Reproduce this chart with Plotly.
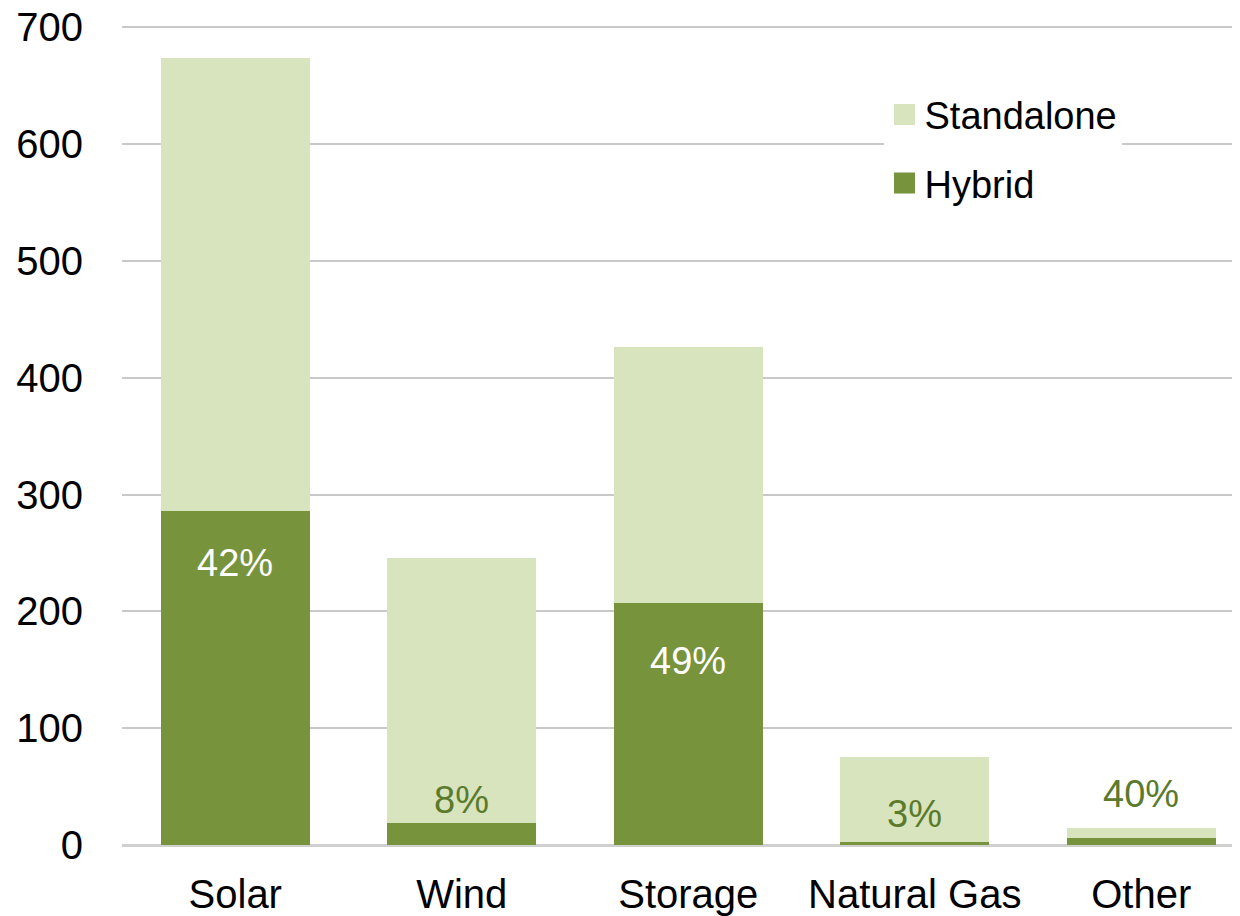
import plotly.graph_objects as go

categories = ["Solar", "Wind", "Storage", "Natural Gas", "Other"]
total = [674, 246, 426, 75, 14.5]
hybrid = [286, 19, 207, 2.2, 5.8]
pct_labels = ["42%", "8%", "49%", "3%", "40%"]
standalone = [t - h for t, h in zip(total, hybrid)]

LIGHT = "#d7e4bd"
DARK = "#77933c"
LABEL_DARK = "#5b7a2c"
FONT = "Liberation Sans, Arial, sans-serif"

# label styling (pixel offsets from top of hybrid segment, colour)
label_shift = [-52, 23, -58, 28, 44]
label_color = ["white", LABEL_DARK, "white", LABEL_DARK, LABEL_DARK]

fig = go.Figure()
fig.add_trace(go.Bar(x=categories, y=hybrid, name="Hybrid", marker_color=DARK,
                     marker_line_width=0, showlegend=False))
fig.add_trace(go.Bar(x=categories, y=standalone, name="Standalone", marker_color=LIGHT,
                     marker_line_width=0, showlegend=False))

# legend entries (square swatches)
for name, col, rank in [("Standalone", LIGHT, 1), ("Hybrid", DARK, 2)]:
    fig.add_trace(go.Scatter(x=[None], y=[None], mode="markers", name=name,
                             legendgroup=name, legendrank=rank,
                             marker=dict(symbol="square", size=16, color=col,
                                         line=dict(color=col, width=5))))

for i, c in enumerate(categories):
    fig.add_annotation(x=c, y=hybrid[i], text=pct_labels[i], showarrow=False,
                       yanchor="middle", yshift=label_shift[i],
                       font=dict(family=FONT, size=38, color=label_color[i]))

fig.update_layout(
    width=1232, height=908,
    barmode="stack", bargap=0.34,
    plot_bgcolor="white", paper_bgcolor="white",
    margin=dict(l=114, r=0, t=18, b=71),
    font=dict(family=FONT, size=40, color="black"),
    legend=dict(x=0.682, y=0.930, xanchor="left", yanchor="top",
                bgcolor="white", traceorder="grouped", tracegroupgap=16,
                font=dict(family=FONT, size=38, color="black"),
                itemwidth=30),
    showlegend=True,
)
fig.update_xaxes(range=[-0.5, 4.436], showgrid=False, showline=False, ticks="",
                 ticklabelstandoff=22, tickfont=dict(size=40), automargin=False)
fig.update_yaxes(range=[0, 701], dtick=100, showgrid=True, gridcolor="#c9c9c9",
                 gridwidth=1.5, zeroline=True, zerolinecolor="#d0d0d0", zerolinewidth=3,
                 ticks="", ticklabelstandoff=38, tickfont=dict(size=40), automargin=False,
                 ticklabeloverflow="allow")

fig.write_html("out.html")
